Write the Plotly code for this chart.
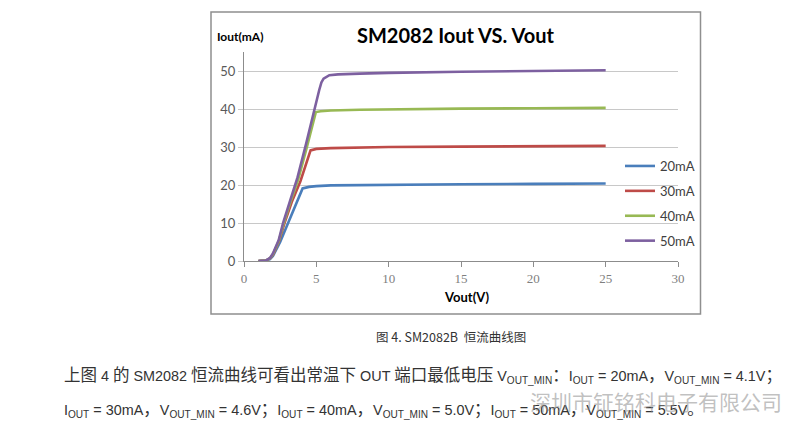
import re
import plotly.graph_objects as go

# ---- data ----
v_20 = [1.0, 1.5, 1.8, 2.0, 2.5, 3.0, 3.5, 4.05, 4.5, 5.0, 6.0, 8.0, 10.0, 15.0, 20.0, 25.0]
i_20 = [0.0, 0.1, 0.5, 1.3, 5.0, 9.5, 14.0, 19.1, 19.5, 19.7, 19.9, 20.0, 20.1, 20.2, 20.3, 20.4]

v_30 = [1.0, 1.5, 1.8, 2.0, 2.4, 2.8, 3.3, 3.9, 4.6, 5.0, 6.0, 8.0, 10.0, 15.0, 20.0, 25.0]
i_30 = [0.0, 0.1, 0.7, 1.6, 5.0, 10.0, 15.5, 21.0, 29.1, 29.5, 29.7, 29.9, 30.0, 30.1, 30.2, 30.3]

v_40 = [1.0, 1.5, 1.8, 2.0, 2.4, 2.75, 3.25, 3.75, 4.35, 4.97, 5.3, 6.0, 8.0, 10.0, 15.0, 20.0, 25.0]
i_40 = [0.0, 0.1, 0.7, 1.8, 5.2, 10.0, 16.0, 21.5, 30.0, 39.2, 39.4, 39.6, 39.8, 39.9, 40.1, 40.2, 40.3]

v_50 = [1.0, 1.5, 1.8, 2.0, 2.4, 2.7, 3.2, 3.7, 4.3, 4.85, 5.2, 5.35, 5.5, 5.9, 6.5, 8.0, 10.0, 15.0, 20.0, 25.0]
i_50 = [0.0, 0.1, 0.8, 2.0, 5.5, 10.0, 16.0, 22.0, 31.0, 40.0, 45.0, 47.0, 48.0, 48.9, 49.1, 49.3, 49.5, 49.8, 50.0, 50.2]

series_names = ["20mA", "30mA", "40mA", "50mA"]
series_colors = ["#4A7EBB", "#BE4B48", "#98B954", "#7D60A0"]

x_ticks = [0, 5, 10, 15, 20, 25, 30]
y_ticks = [0, 10, 20, 30, 40, 50]

chart_title = "SM2082 Iout VS. Vout"
y_title = "Iout(mA)"
x_title = "Vout(V)"
caption = "图 4. SM2082B  恒流曲线图"
para_1 = ("上图 4 的 SM2082 恒流曲线可看出常温下 OUT 端口最低电压 V<sub>OUT_MIN</sub>：I<sub>OUT</sub> = 20mA，"
          "V<sub>OUT_MIN</sub> = 4.1V；")
para_2 = ("I<sub>OUT</sub> = 30mA，V<sub>OUT_MIN</sub> = 4.6V；I<sub>OUT</sub> = 40mA，V<sub>OUT_MIN</sub> = 5.0V；"
          "I<sub>OUT</sub> = 50mA，V<sub>OUT_MIN</sub> = 5.5V。")
watermark = "深圳市钲铭科电子有限公司"

# ---- layout geometry (pixels) ----
W, H = 800, 425
ML, MR, MT, MB = 244, 122, 52, 164
PW, PH = W - ML - MR, H - MT - MB


def px(x):
    return (x - ML) / PW


def py(y):
    return (H - MB - y) / PH


def cjk_wrap(s, size):
    return re.sub(r"([\u3000-\u9fff\uff00-\uffef]+)",
                  r'<span style="font-family:Noto Sans CJK SC;font-size:%gpx">\1</span>' % size, s)


fig = go.Figure()
for xs, ys, name, col in zip([v_20, v_30, v_40, v_50], [i_20, i_30, i_40, i_50],
                             series_names, series_colors):
    fig.add_trace(go.Scatter(x=xs, y=ys, mode="lines", name=name, legendgroup=name,
                             line=dict(color=col, width=2.6)))

sans = "Lato, 'Open Sans', sans-serif"
latin_font = "'Liberation Sans', Arial, sans-serif"

fig.update_layout(
    width=W, height=H,
    margin=dict(l=ML, r=MR, t=MT, b=MB, pad=0),
    paper_bgcolor="white", plot_bgcolor="white",
    showlegend=True,
    legend=dict(x=px(620), y=py(151), xanchor="left", yanchor="top",
                font=dict(family=sans, size=13, color="#404040"),
                tracegroupgap=5, bgcolor="rgba(0,0,0,0)", itemwidth=30),
    xaxis=dict(range=[0, 30], tickmode="array", tickvals=x_ticks,
               showgrid=False, zeroline=False,
               showline=True, linecolor="#8c8c8c", linewidth=1,
               ticks="outside", ticklen=5, tickcolor="#8c8c8c",
               tickfont=dict(family="'Liberation Serif', serif", size=13, color="#7f7f7f"),
               fixedrange=True),
    yaxis=dict(range=[0, 55], tickmode="array", tickvals=y_ticks,
               showgrid=True, gridcolor="#c8c8c8", gridwidth=1, zeroline=False,
               showline=True, linecolor="#8c8c8c", linewidth=1,
               ticks="outside", ticklen=5, tickcolor="#c8c8c8",
               tickfont=dict(family=sans, size=13, color="#595959"),
               fixedrange=True),
)

# chart frame
fig.add_shape(type="rect", xref="paper", yref="paper",
              x0=px(211), x1=px(700.5), y0=py(314), y1=py(12),
              line=dict(color="#8f8f8f", width=1.5), fillcolor="rgba(0,0,0,0)", layer="below")

ann = []
ann.append(dict(text="<b>" + chart_title + "</b>", x=px(456), y=py(35), xanchor="center", yanchor="middle",
                font=dict(family=sans, size=20, color="#000000")))
ann.append(dict(text="<b>" + y_title + "</b>", x=px(215), y=py(36), xanchor="left", yanchor="middle",
                font=dict(family=sans, size=12, color="#000000")))
ann.append(dict(text="<b>" + x_title + "</b>", x=px(466), y=py(297), xanchor="center", yanchor="middle",
                font=dict(family=sans, size=13, color="#000000")))
ann.append(dict(text=caption, x=px(451), y=py(336), xanchor="center", yanchor="middle",
                font=dict(family="'Noto Sans CJK SC', sans-serif", size=12.5, color="#333333")))
ann.append(dict(text=cjk_wrap(para_1, 16.5), x=px(62), y=py(374), xanchor="left", yanchor="middle",
                font=dict(family=latin_font, size=14.4, color="#333333")))
ann.append(dict(text=cjk_wrap(para_2, 16.5), x=px(62), y=py(408), xanchor="left", yanchor="middle",
                font=dict(family=latin_font, size=14.4, color="#333333")))
ann.append(dict(text=watermark, x=px(528), y=py(401), xanchor="left", yanchor="middle",
                font=dict(family="'Noto Sans CJK SC', sans-serif", size=21, color="rgba(140,140,140,0.55)")))
for a in ann:
    a.update(xref="paper", yref="paper", showarrow=False)
    fig.add_annotation(**a)

fig.write_html("out.html", config={"displayModeBar": False},
               post_script="document.body.style.margin='0px';")
